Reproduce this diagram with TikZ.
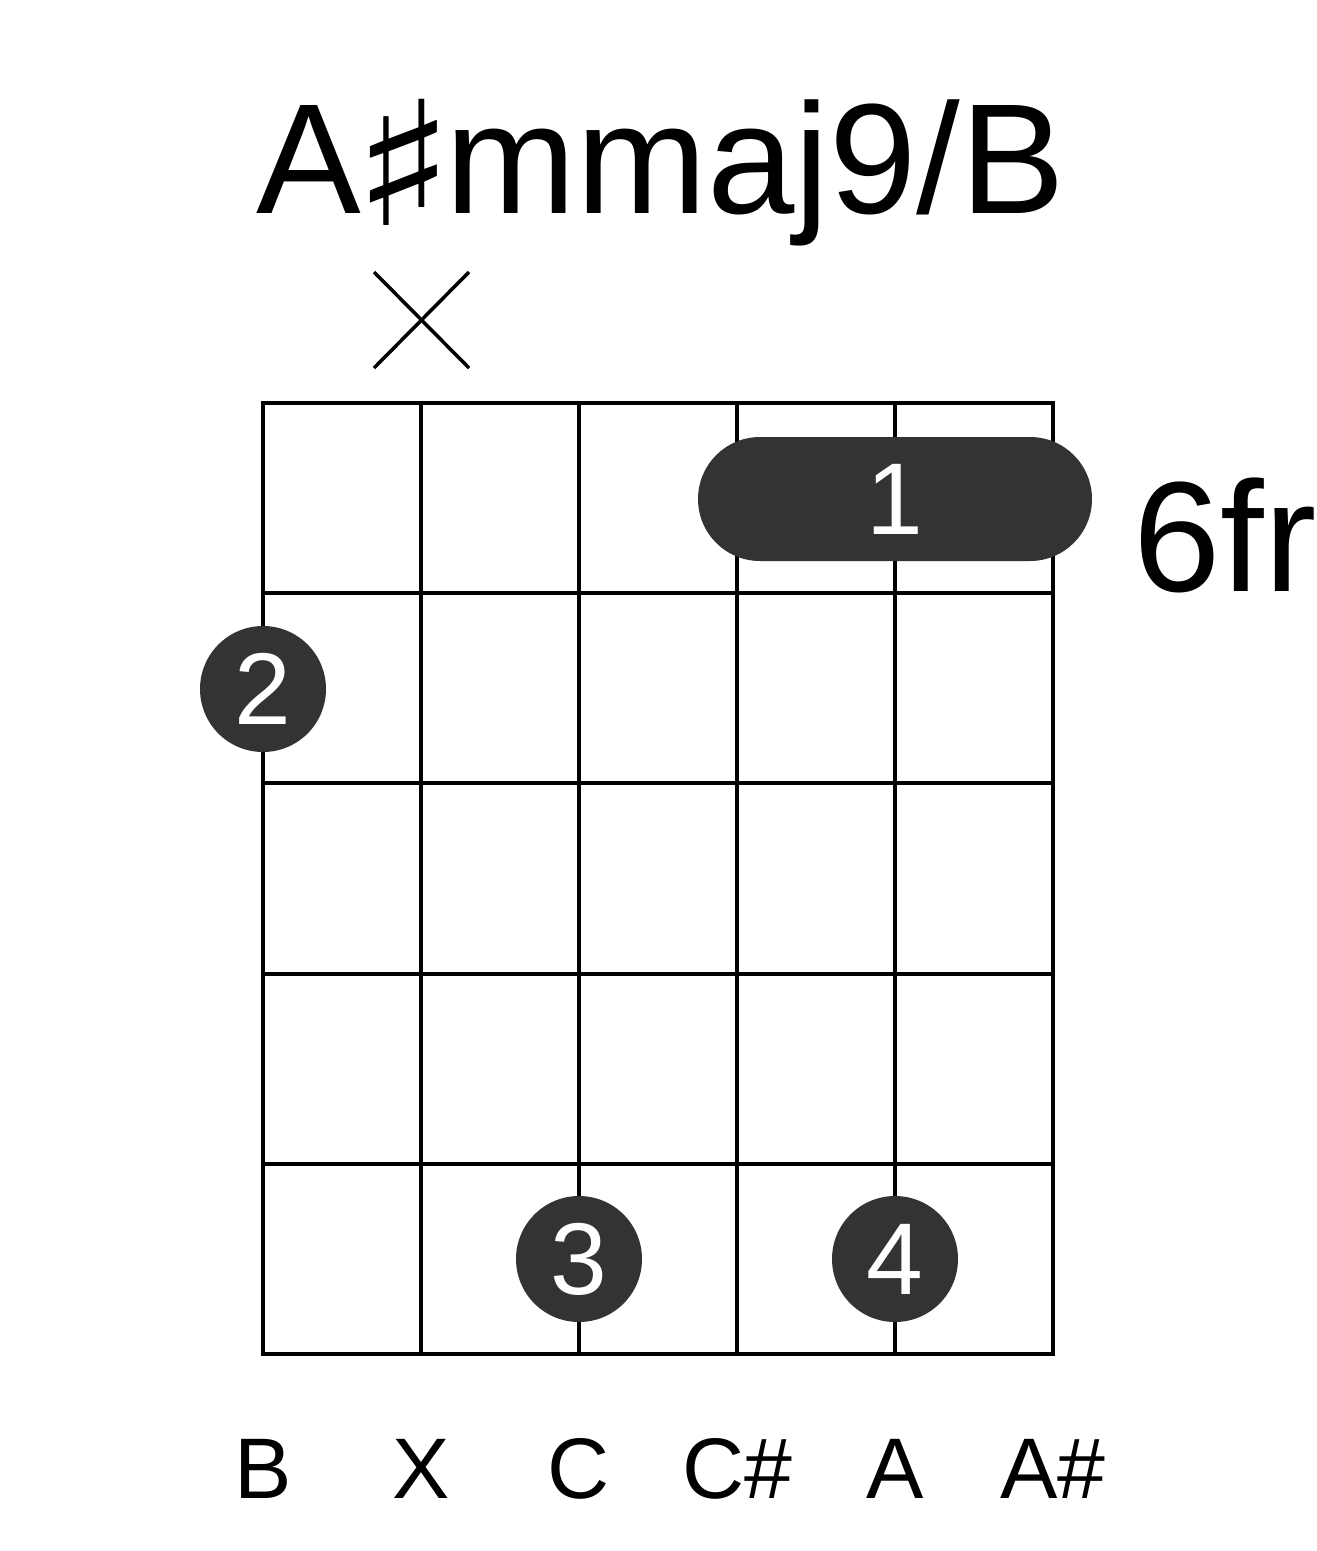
\documentclass[tikz,border=0pt]{standalone}
\usepackage{fontspec}
\setmainfont{Liberation Sans}
\newfontfamily\djv{DejaVu Sans}
\definecolor{dotgray}{HTML}{333333}
\begin{document}
\begin{tikzpicture}[x=1pt,y=-1pt,
  gridline/.style={line width=4pt, line cap=rect},
  fingerdot/.style={circle, fill=dotgray, minimum size=126pt, inner sep=0pt, text=white,
    font=\fontsize{102}{102}\selectfont},
  barre/.style={rectangle, fill=dotgray, minimum width=394pt, minimum height=124pt,
    rounded corners=62pt, inner sep=0pt, text=white, font=\fontsize{102}{102}\selectfont},
  bigtext/.style={inner sep=0pt, anchor=base, font=\fontsize{157}{160}\selectfont},
  strlabel/.style={inner sep=0pt, anchor=base, font=\fontsize{86}{90}\selectfont},
  mutemark/.style={line width=3.5pt}]
\useasboundingbox (0,0) rectangle (1317,1551);
% title
\node[bigtext] (title) at (661,213) {A\makebox[84pt]{\raisebox{-12pt}{\scalebox{1.35}[1.1]{\djv ♯}}}mmaj9/B};
% grid
\foreach \i in {1,...,4} {
  \draw[gridline] ({263+158*\i},403) -- ({263+158*\i},1354);
  \draw[gridline] (263,{403+190.2*\i}) -- (1053,{403+190.2*\i});
}
\draw[line width=4pt] (263,403) rectangle (1053,1354);
% mute mark
\coordinate (m1) at (374,272);
\coordinate (m2) at (469,368);
\coordinate (m3) at (469,272);
\coordinate (m4) at (374,368);
\draw[mutemark] (m1) -- (m2);
\draw[mutemark] (m3) -- (m4);
% barre and dots
\node[barre] (b1) at (895,499) {1};
\node[fingerdot] (d2) at (263,689) {2};
\node[fingerdot] (d3) at (579,1259) {3};
\node[fingerdot] (d4) at (895,1259) {4};
% fret label
\node[bigtext, anchor=base west] (fr) at (1133,591) {6fr};
% string labels
\node[strlabel] (s1) at (263,1498) {B};
\node[strlabel] (s2) at (421,1498) {X};
\node[strlabel] (s3) at (579,1498) {C};
\node[strlabel] (s4) at (737,1498) {C\#};
\node[strlabel] (s5) at (895,1498) {A};
\node[strlabel] (s6) at (1053,1498) {A\#};
\end{tikzpicture}
\end{document}
